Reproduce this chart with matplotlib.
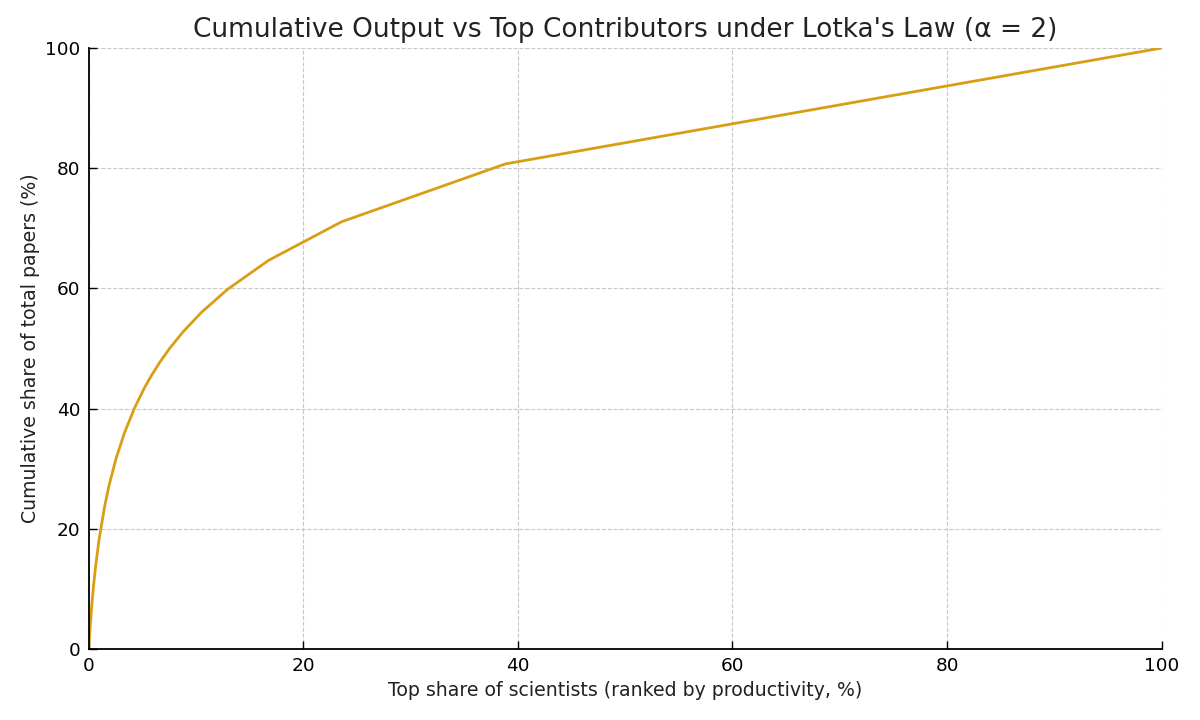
import matplotlib
matplotlib.use("Agg")
import matplotlib.pyplot as plt

# points: top share of scientists (%) vs cumulative share of papers (%)
top_share = [0, 0.0061, 0.0748, 0.161, 0.271, 0.419, 0.627, 0.940, 1.465, 1.888,
             2.527, 3.336, 4.282, 5.212, 5.824, 6.579, 7.534, 8.783, 10.48, 12.93,
             16.75, 23.55, 38.84, 100]
cum_papers = [0, 0.193, 2.24, 4.52, 7.11, 10.11, 13.65, 18.00, 23.63, 27.21,
              31.61, 36.03, 40.18, 43.54, 45.46, 47.61, 50.02, 52.77, 55.98, 59.84,
              64.66, 71.08, 80.72, 100]

xticks = [0, 20, 40, 60, 80, 100]
yticks = [0, 20, 40, 60, 80, 100]

fig = plt.figure(figsize=(12, 7.2), dpi=100)
ax = fig.add_axes([0.074, 0.0986, 0.894, 0.8347])

ax.plot(top_share, cum_papers, color="#d89f14", linewidth=2)

ax.set_xlim(0, 100)
ax.set_ylim(0, 100)
ax.set_xticks(xticks)
ax.set_yticks(yticks)
ax.tick_params(direction="in", length=6, width=1, labelsize=13.3, pad=6)
ax.grid(True, linestyle="--", color="#c8c8c8", linewidth=0.8)
ax.set_axisbelow(True)
for s in ["top", "right"]:
    ax.spines[s].set_visible(False)
for s in ["left", "bottom"]:
    ax.spines[s].set_linewidth(1.3)

ax.set_title("Cumulative Output vs Top Contributors under Lotka's Law (\u03b1 = 2)",
             fontsize=19, color="#222222", pad=8)
ax.set_xlabel("Top share of scientists (ranked by productivity, %)", fontsize=13.6, color="#222222")
ax.set_ylabel("Cumulative share of total papers (%)", fontsize=13.6, color="#222222")

fig.savefig("out.png", dpi=100)
